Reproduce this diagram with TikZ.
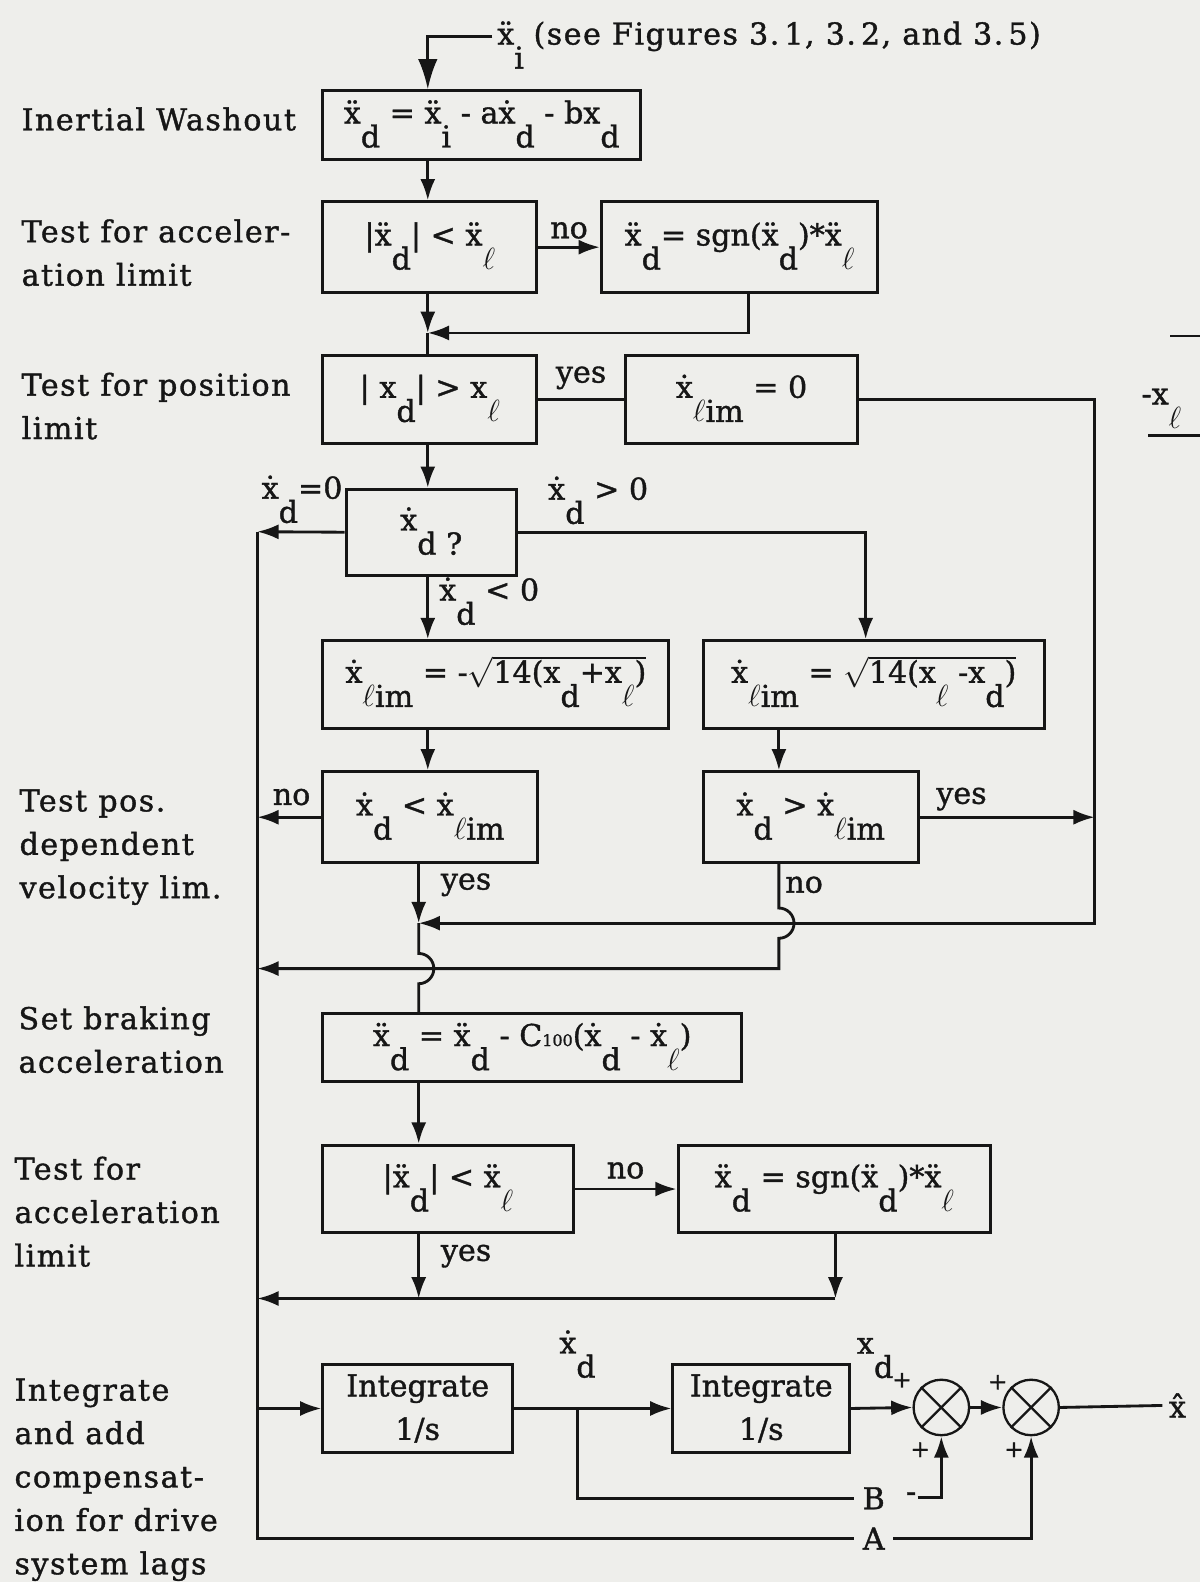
\documentclass[tikz,border=0pt]{standalone}
\usepackage{fontspec}
\setmainfont[FakeBold=1.2]{DejaVu Serif}
\newfontfamily\sidefont[FakeBold=1.2, LetterSpace=5]{DejaVu Serif}
\usetikzlibrary{arrows.meta}
\definecolor{paper}{RGB}{238,238,235}
\definecolor{ink}{RGB}{22,22,22}
% subscript set well below the line, taking no height or depth
\newcommand{\sbl}[1]{\raisebox{-0.8em}[0pt][0pt]{#1}}
\newcommand{\xdt}{\.x}
\newcommand{\xddt}{\"x}

\begin{document}
\begin{tikzpicture}[x=0.02cm, y=-0.02cm,
  font=\fontsize{17}{24.5}\selectfont,
  line width=1.6pt, draw=ink, text=ink,
  arr/.style={-{Latex[length=12pt,width=8.5pt]}},
  bigarr/.style={-{Latex[length=17pt,width=11pt]}},
  box/.style={draw, line width=1.7pt, inner sep=0pt, text height=0.9em, text depth=1.1em},
  lbl/.style={inner sep=0pt},
  side/.style={inner sep=0pt, align=left, anchor=north west, font=\fontsize{17}{24.5}\sidefont},
  sumj/.style={draw, circle, line width=1.3pt, minimum size=1.1cm, inner sep=0pt},
  sgn/.style={inner sep=0pt, font=\fontsize{13}{13}\selectfont},
]
\useasboundingbox (0,0) rectangle (1189,1568);
\fill[paper] (0,0) rectangle (1189,1568);

% ---- step descriptions in the left column
\node[side] (l-wash) at (20,105) {Inertial Washout};
\node[side] (l-acc)  at (20,216) {Test for acceler-\\ation limit};
\node[side] (l-pos)  at (20,368) {Test for position\\limit};
\node[side] (l-vel)  at (18,781) {Test pos.\\dependent\\velocity lim.};
\node[side] (l-brk)  at (17,996) {Set braking\\acceleration};
\node[side] (l-acc2) at (13,1145) {Test for\\acceleration\\limit};
\node[side] (l-int)  at (13,1365) {Integrate\\and add\\compensat-\\ion for drive\\system lags};

% ---- blocks
\node[box, minimum width=6.30cm, minimum height=1.36cm] (b1) at (477.5,124)
  {\xddt\sbl{d} = \xddt\sbl{i} - a\xdt\sbl{d} - bx\sbl{d}};
\node[box, minimum width=4.24cm, minimum height=1.80cm] (b2) at (426,245)
  {|\xddt\sbl{d}| < \xddt\sbl{$\ell$}};
\node[box, minimum width=5.48cm, minimum height=1.80cm] (b3) at (733,245)
  {\xddt\sbl{d}= sgn(\xddt\sbl{d})*\xddt\sbl{$\ell$}};
\node[box, minimum width=4.24cm, minimum height=1.76cm] (b4) at (426,396)
  {| x\sbl{d}| > x\sbl{$\ell$}};
\node[box, minimum width=4.60cm, minimum height=1.76cm] (b5) at (735,396)
  {\xdt\sbl{$\ell$im} = 0};
\node[box, minimum width=3.38cm, minimum height=1.70cm] (b6) at (427.5,527.5)
  {\xdt\sbl{d ?}\hspace{0.8em}};
\node[box, minimum width=6.86cm, minimum height=1.74cm] (b7) at (491.5,678.5)
  {\xdt\sbl{$\ell$im} = -$\sqrt{\mbox{14(x\sbl{d}+x\sbl{$\ell$})}}$};
\node[box, minimum width=6.76cm, minimum height=1.74cm] (b8) at (866,678.5)
  {\xdt\sbl{$\ell$im} = $\sqrt{\mbox{14(x\sbl{$\ell$} -x\sbl{d})}}$};
\node[box, minimum width=4.26cm, minimum height=1.80cm] (b9) at (426.5,810)
  {\xdt\sbl{d} < \xdt\sbl{$\ell$im}};
\node[box, minimum width=4.26cm, minimum height=1.80cm] (b10) at (803.5,810)
  {\xdt\sbl{d} > \xdt\sbl{$\ell$im}};
\node[box, minimum width=8.30cm, minimum height=1.34cm] (b11) at (527.5,1038.5)
  {\xddt\sbl{d} = \xddt\sbl{d} - C{\fontsize{9}{9}\selectfont 100}(\xdt\sbl{d} - \xdt\sbl{$\ell$})};
\node[box, minimum width=4.96cm, minimum height=1.74cm] (b12) at (444,1178.5)
  {|\xddt\sbl{d}| < \xddt\sbl{$\ell$}};
\node[box, minimum width=6.20cm, minimum height=1.74cm] (b13) at (827,1178.5)
  {\xddt\sbl{d} = sgn(\xddt\sbl{d})*\xddt\sbl{$\ell$}};
\node[box, align=center, text height=, text depth=, minimum width=3.76cm, minimum height=1.76cm] (i1) at (414,1396)
  {Integrate\\1/s};
\node[box, align=center, text height=, text depth=, minimum width=3.50cm, minimum height=1.76cm] (i2) at (754.5,1396)
  {Integrate\\1/s};
\node[sumj] (s1) at (933,1395) {};
\node[sumj] (s2) at (1022,1395) {};
\draw[line width=1.3pt] (s1.north east) -- (s1.south west) (s1.north west) -- (s1.south east);
\draw[line width=1.3pt] (s2.north east) -- (s2.south west) (s2.north west) -- (s2.south east);

% ---- guide coordinates for the vertical runs
\coordinate (colU) at (424,0);
\coordinate (colL) at (415,0);
\coordinate (lx)   at (255,0);
\coordinate (rx)   at (1085,0);
\coordinate (c858) at (858,0);
\coordinate (c772) at (772,0);
\coordinate (c828) at (828,0);
\coordinate (c742) at (742,0);
\coordinate (j1) at (424,330);
\coordinate (r1) at (742,330);
\coordinate (r3) at (1085,915);
\coordinate (j2) at (415,915);
\coordinate (hopA) at (415,945);
\coordinate (hopB) at (772,900);
\coordinate (k1) at (772,960);
\coordinate (k2) at (255,960);
\coordinate (j3) at (415,1287);
\coordinate (m1) at (828,1287);
\coordinate (m2) at (255,1287);
\coordinate (lTop) at (255,527);
\coordinate (lBot) at (255,1525);
\coordinate (brx) at (572,1395);
\coordinate (brB) at (572,1485);

% ---- input
\node[lbl, anchor=west, inner sep=2pt] (inp) at (488,36)
  {\xddt\sbl{i} {\sidefont (see Figures 3.\,1, 3.\,2, and 3.\,5)}};
\draw[bigarr] (inp.west) -| (b1.north -| colU);

% ---- upper chain
\draw[arr] (b1.south -| colU) -- (b2.north -| colU);
\draw[arr] (b2.east) -- (b3.west) node[lbl, midway, above=4pt] (no1) {no};
\draw[arr] (b2.south -| colU) -- (j1);
\draw[arr] (b3.south -| c742) -- (r1) -- (j1);
\draw (j1) -- (b4.north -| colU);
\draw (b4.east) -- (b5.west) node[lbl, midway, above=5pt] (yes1) {yes};
\draw[arr] (b5.east) -- (b5.east -| rx) -- (r3) -- (j2);
\draw[arr] (b4.south -| colU) -- (b6.north -| colU);

% ---- velocity sign branch
\draw[arr] (b6.west) -- (lTop);
\node[lbl, anchor=west] (vz) at (258,483) {\xdt\sbl{d}=0};
\draw[arr] (b6.east) -| (b8.north -| c858);
\node[lbl, anchor=west] (vp) at (542,484) {\xdt\sbl{d} > 0};
\draw[arr] (b6.south -| colU) -- (b7.north -| colU);
\node[lbl, anchor=west] (vn) at (434,584) {\xdt\sbl{d} < 0};
\draw[arr] (b7.south -| colU) -- (b9.north -| colU);
\draw[arr] (b8.south -| c772) -- (b10.north -| c772);

% ---- velocity limit tests
\draw[arr] (b9.west) -- (b9.west -| lx);
\node[lbl] (no2) at (289,790) {no};
\draw[arr] (b10.east) -- (b10.east -| rx);
\node[lbl] (yes2) at (953,792) {yes};
\draw[arr] (b9.south -| colL) -- (j2);
\node[lbl] (yes3) at (462,877) {yes};
\draw[arr] (b10.south -| c772) -- (hopB) arc[start angle=90, end angle=-90, radius=0.3cm] -- (k1) -- (k2);
\node[lbl] (no3) at (797,877) {no};
\draw (j2) -- (hopA) arc[start angle=90, end angle=-90, radius=0.3cm] -- (b11.north -| colL);

% ---- braking and acceleration limit
\draw[arr] (b11.south -| colL) -- (b12.north -| colL);
\draw[arr] (b12.east) -- (b13.west) node[lbl, midway, above=5pt] (no4) {no};
\draw[arr] (b12.south -| colL) -- (j3);
\node[lbl] (yes4) at (462,1245) {yes};
\draw[arr] (b13.south -| c828) -- (m1);
\draw[arr] (m1) -- (m2);

% ---- left return rail and integrators
\node[lbl, inner sep=4pt] (nB) at (866,1485) {B};
\node[lbl, inner sep=4pt] (nA) at (866,1525) {A};
\draw (lTop) -- (lBot) -- (nA.west);
\draw[arr] (lx |- i1.west) -- (i1.west);
\draw[arr] (i1.east) -- (i2.west);
\node[lbl, anchor=west] (vd) at (553,1330) {\xdt\sbl{d}};
\draw (brx) -- (brB) -- (nB.west);
\node[lbl] (minus) at (903,1484) {-};
\draw[arr] (minus.east) -| (s1.south);
\draw[arr] (nA.east) -| (s2.south);
\draw[arr] (i2.east) -- (s1.west);
\node[lbl, anchor=west] (xd) at (848,1334) {x\sbl{d}};
\draw[arr] (s1.east) -- (s2.west);
\node[sgn] (p1) at (894,1368) {+};
\node[sgn] (p2) at (989,1370) {+};
\node[sgn] (p3) at (912,1437) {+};
\node[sgn] (p4) at (1005,1437) {+};
\node[lbl, anchor=west, inner sep=3pt] (xh) at (1152,1393) {\^{x}};
\draw (s2.east) -- (xh.west);

% ---- edge of the neighbouring figure
\coordinate (f1) at (1160,333);
\coordinate (f2) at (1189,333);
\coordinate (f3) at (1138,432);
\coordinate (f4) at (1189,432);
\draw (f1) -- (f2);
\draw (f3) -- (f4);
\node[lbl, anchor=west] (fx) at (1130,393) {-x\sbl{$\ell$}};
\end{tikzpicture}
\end{document}
